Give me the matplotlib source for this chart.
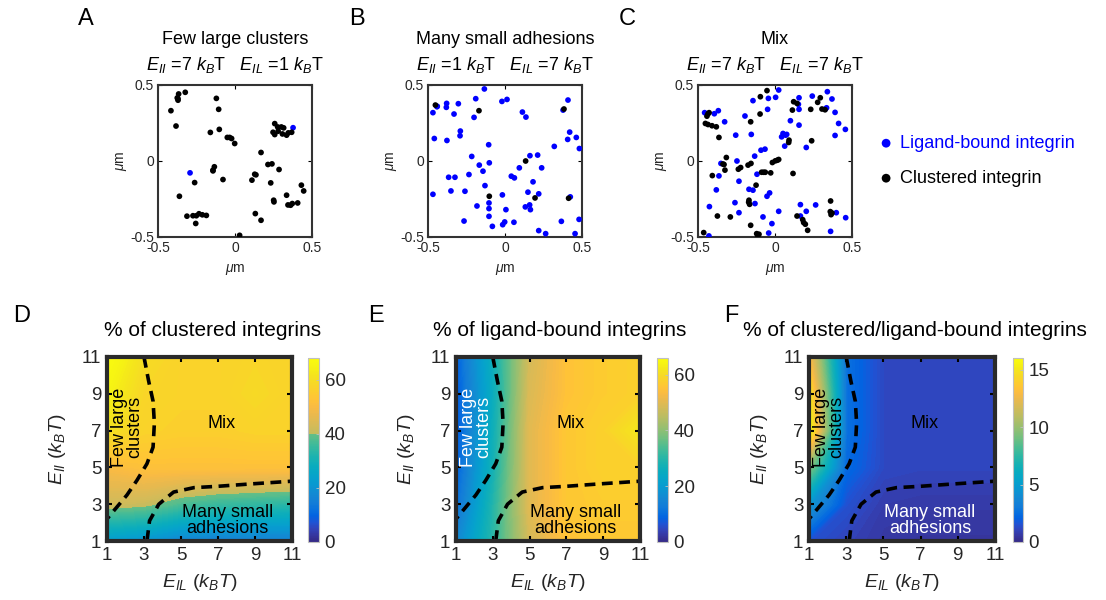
import numpy as np
import matplotlib
matplotlib.use("Agg")
import matplotlib.pyplot as plt
from matplotlib.colors import LinearSegmentedColormap, ListedColormap, Normalize
from matplotlib.cm import ScalarMappable

plt.rcParams['font.family'] = ['Liberation Sans', 'DejaVu Sans']
plt.rcParams['mathtext.fontset'] = 'custom'
plt.rcParams['mathtext.rm'] = 'Liberation Sans'
plt.rcParams['mathtext.it'] = 'Liberation Sans:italic'
plt.rcParams['axes.unicode_minus'] = False

# ---------------- data: top scatter panels (positions in um) ----------------
A_clu_x = [-0.366, -0.323, -0.37, -0.37, -0.375, -0.416, -0.383, -0.121, -0.106, -0.102, -0.160,
           -0.05, -0.035, -0.022, -0.002, 0.258, 0.277, 0.301, 0.316, 0.247, 0.258, 0.280, 0.308,
           0.335, 0.346, 0.368, 0.169, 0.214, 0.240, 0.286, 0.110, 0.128, 0.136, 0.232, -0.143,
           -0.134, -0.143, -0.078, -0.262, -0.361, 0.335, 0.251, 0.253, 0.344, 0.372, 0.407, 0.361,
           0.431, 0.446, -0.312, -0.273, -0.251, -0.234, -0.212, -0.186, -0.255, 0.132, 0.169, 0.030]
A_clu_y = [0.441, 0.452, 0.41, 0.40, 0.415, 0.331, 0.230, 0.412, 0.340, 0.208, 0.188,
           0.155, 0.155, 0.148, 0.115, 0.246, 0.224, 0.224, 0.218, 0.189, 0.174, 0.196, 0.178,
           0.170, 0.185, 0.189, 0.056, -0.023, -0.019, -0.056, -0.126, -0.087, -0.091, -0.144,
           -0.060, -0.038, -0.065, -0.122, -0.142, -0.232, -0.225, -0.258, -0.269, -0.289, -0.280,
           -0.276, -0.291, -0.159, -0.197, -0.363, -0.360, -0.360, -0.347, -0.354, -0.358, -0.411,
           -0.346, -0.390, -0.489]
A_lig_x = [0.377, -0.292]
A_lig_y = [0.219, -0.078]

B_clu_x = [-0.452, -0.169, 0.383, 0.134, -0.102, 0.195, 0.413]
B_clu_y = [0.368, 0.331, 0.342, 0.0, -0.232, -0.243, -0.245]
B_lig_x = [-0.468, -0.442, -0.379, -0.381, -0.331, -0.303, -0.290, -0.292, -0.459, -0.377, -0.201,
           -0.190, -0.134, -0.020, 0.013, 0.113, 0.136, 0.377, 0.409, 0.420, 0.407, 0.463, 0.483,
           0.320, -0.106, -0.216, -0.102, -0.167, -0.143, -0.234, -0.366, -0.325, -0.351, -0.260,
           -0.468, -0.130, 0.162, 0.212, 0.093, 0.238, 0.041, 0.061, 0.182, 0.149, 0.219, -0.017,
           -0.104, -0.104, -0.104, -0.182, 0.006, 0.132, 0.160, 0.165, -0.266, -0.082, -0.002,
           -0.015, 0.058, 0.219, 0.264, 0.366, 0.424, 0.481, 0.455, -0.440]
B_lig_y = [0.318, 0.357, 0.379, 0.353, 0.309, 0.377, 0.197, 0.166, 0.148, 0.135, 0.287,
           0.410, 0.474, 0.392, 0.405, 0.322, 0.289, 0.335, 0.401, 0.190, 0.142, 0.155, 0.082,
           0.096, 0.107, 0.030, -0.012, -0.027, -0.067, -0.089, -0.107, -0.107, -0.197, -0.199,
           -0.219, -0.162, 0.035, 0.039, -0.045, -0.045, -0.100, -0.111, -0.137, -0.205, -0.216,
           -0.223, -0.276, -0.313, -0.364, -0.296, -0.320, -0.302, -0.289, -0.320, -0.395, -0.430,
           -0.401, -0.419, -0.403, -0.458, -0.478, -0.397, -0.236, -0.384, -0.478, 0.360]

C_clu_x = [-0.435, -0.428, -0.442, -0.452, -0.435, -0.409, -0.381, -0.364, -0.316, -0.331, -0.325,
           -0.338, -0.407, -0.374, -0.290, -0.463, -0.158, -0.097, -0.095, -0.052, -0.175, -0.156,
           -0.238, -0.223, -0.123, -0.087, -0.074, -0.063, -0.028, -0.017, 0.002, 0.015, 0.024,
           0.091, 0.089, 0.117, 0.121, 0.143, 0.113, 0.232, 0.277, 0.294, 0.305, 0.325, 0.238,
           -0.169, -0.171, -0.165, -0.158, -0.119, -0.104, -0.112, 0.143, 0.180, 0.186, 0.197,
           0.212, 0.361, 0.359, 0.364, 0.370]
C_clu_y = [0.310, 0.318, 0.295, 0.247, 0.240, 0.232, 0.225, 0.155, 0.023, -0.023, -0.060,
           -0.020, -0.096, -0.362, -0.368, -0.471, 0.258, 0.309, 0.423, 0.463, -0.027, -0.016,
           -0.054, -0.043, -0.159, -0.074, -0.074, -0.074, -0.078, -0.010, 0.001, 0.005, 0.010,
           0.137, 0.122, -0.082, 0.390, 0.379, 0.335, 0.340, 0.386, 0.416, 0.342, 0.337, 0.133,
           -0.258, -0.271, -0.285, -0.423, -0.478, -0.482, -0.490, -0.362, -0.386, -0.405, -0.416,
           -0.456, -0.263, -0.333, -0.353, -0.342]
C_lig_x = [-0.457, -0.394, -0.368, -0.327, -0.351, -0.364, -0.381, -0.426, -0.429, -0.255, -0.247,
           -0.234, -0.260, -0.234, -0.195, -0.154, -0.143, -0.132, -0.169, -0.143, -0.130, -0.117,
           -0.091, -0.065, -0.048, -0.043, -0.078, -0.052, -0.035, 0.004, 0.024, -0.020, -0.041,
           0.024, 0.052, 0.043, 0.069, 0.076, 0.063, 0.100, 0.156, 0.152, 0.156, 0.156, 0.203,
           0.165, 0.165, 0.203, 0.264, 0.242, 0.327, 0.335, 0.340, 0.370, 0.390, 0.390, 0.413,
           0.457, 0.398, 0.459, 0.361]
C_lig_y = [0.318, 0.311, 0.331, 0.258, -0.016, -0.098, -0.190, -0.300, -0.493, 0.170, 0.0,
           -0.133, -0.274, -0.340, 0.296, 0.175, 0.397, 0.032, -0.186, -0.192, -0.280, -0.087,
           0.071, 0.078, 0.340, 0.412, -0.368, -0.232, -0.210, 0.419, 0.467, -0.412, -0.474,
           -0.331, 0.181, 0.159, 0.170, 0.175, 0.098, 0.265, 0.416, 0.373, 0.340, 0.236, 0.089,
           -0.287, -0.362, -0.331, -0.289, 0.427, 0.342, 0.350, 0.456, 0.408, 0.320, 0.168, 0.247,
           0.208, -0.340, -0.373, -0.463]

scatter_ticks = [-0.5, 0, 0.5]
scatter_ticklabels = ['-0.5', '0', '0.5']

top_titles = ['Few large clusters', 'Many small adhesions', 'Mix']
top_subtitles = [r'$E_{II}$ =7 $k_B$T   $E_{IL}$ =1 $k_B$T',
                 r'$E_{II}$ =1 $k_B$T   $E_{IL}$ =7 $k_B$T',
                 r'$E_{II}$ =7 $k_B$T   $E_{IL}$ =7 $k_B$T']

# ---------------- data: phase diagrams ----------------
E_IL = [1, 3, 5, 7, 9, 11]     # x
E_II = [1, 3, 5, 7, 9, 11]     # y
# rows: E_II = 1..11, cols: E_IL = 1..11
pct_clustered = [
    [22, 20, 16, 15, 15, 15],
    [42, 41, 37, 35, 34, 33],
    [50, 52, 52, 52, 52, 52],
    [61, 57, 56, 56, 57, 57],
    [65, 58, 57, 57, 59, 57],
    [68, 60, 57, 57, 58, 57],
]
pct_ligand = [
    [15, 30, 48, 55, 56, 56],
    [10, 29, 50, 56, 57, 57],
    [8, 27, 50, 56, 58, 58],
    [7, 26, 50, 56, 58, 62],
    [7, 25, 49, 55, 57, 58],
    [8, 26, 48, 55, 57, 58],
]
pct_ratio = [
    [1.5, 1.0, 0.6, 0.5, 0.5, 0.5],
    [4.5, 1.5, 0.8, 0.7, 0.7, 0.7],
    [9.5, 2.3, 1.2, 1.1, 1.1, 1.1],
    [16.0, 2.6, 1.2, 1.2, 1.2, 1.2],
    [15.0, 2.6, 1.2, 1.2, 1.2, 1.2],
    [13.0, 2.6, 1.2, 1.2, 1.2, 1.2],
]
cbar_max = [68, 66, 16]
cbar_ticks = [[0, 20, 40, 60], [0, 20, 40, 60], [0, 5, 10, 15]]
heat_titles = ['% of clustered integrins', '% of ligand-bound integrins',
               '% of clustered/ligand-bound integrins']

# phase boundaries
b1_x = [3.0, 3.25, 3.49, 3.56, 3.49, 3.16, 2.62, 2.08, 1.0]
b1_y = [11.0, 9.7, 8.6, 7.4, 6.1, 5.2, 4.3, 3.5, 2.2]
b2_x = [3.16, 3.3, 3.8, 4.6, 5.7, 6.95, 8.75, 11.0]
b2_y = [1.0, 2.1, 3.0, 3.66, 3.9, 3.97, 4.1, 4.25]

# ---------------- colormaps ----------------
parula_pts = [
    (0.2081, 0.1663, 0.5292), (0.2123, 0.2138, 0.6270), (0.1959, 0.2645, 0.7279),
    (0.1253, 0.3242, 0.8303), (0.0117, 0.3875, 0.8820), (0.0329, 0.4430, 0.8720),
    (0.0723, 0.4887, 0.8467), (0.0793, 0.5200, 0.8312), (0.0641, 0.5570, 0.8240),
    (0.0343, 0.5966, 0.8199), (0.0239, 0.6287, 0.8038), (0.0228, 0.6535, 0.7768),
    (0.0384, 0.6743, 0.7436), (0.0843, 0.6928, 0.7062), (0.1453, 0.7098, 0.6646),
    (0.2178, 0.7250, 0.6193), (0.3022, 0.7376, 0.5712), (0.3953, 0.7459, 0.5244),
    (0.4871, 0.7491, 0.4840), (0.5709, 0.7485, 0.4494), (0.6473, 0.7456, 0.4188),
    (0.7184, 0.7411, 0.3905), (0.7858, 0.7356, 0.3633), (0.8507, 0.7299, 0.3360),
    (0.9139, 0.7258, 0.3063), (0.9739, 0.7314, 0.2666), (0.9990, 0.7653, 0.2164),
    (0.9880, 0.8066, 0.1794), (0.9697, 0.8481, 0.1475), (0.9589, 0.8949, 0.1132),
    (0.9661, 0.9514, 0.0755), (0.9763, 0.9831, 0.0538)]
parula = LinearSegmentedColormap.from_list('parula', parula_pts, N=256)

# D colormap with a jump at 40 (as in the reference colorbar)
vals = np.linspace(0, 68, 256)
cols = [parula(0.55 * v / 40.0) if v < 40 else parula(0.70 + 0.30 * (v - 40) / 28.0) for v in vals]
cmapD = ListedColormap(cols)
cmaps = [cmapD, parula, parula]

# ---------------- figure ----------------
W, H = 1106, 600
fig = plt.figure(figsize=(W / 100, H / 100), dpi=100)


def ax_px(l, t, r, b):
    return fig.add_axes([l / W, 1 - b / H, (r - l) / W, (b - t) / H])


def ftext(x, y, s, **kw):
    fig.text(x / W, 1 - y / H, s, **kw)


frame_col = '#333333'
tick_col = '#262626'

# top panels
top_boxes = [(158, 85, 312, 237), (428, 85, 582, 237), (698, 85, 852, 237)]
scat = [(A_lig_x, A_lig_y, A_clu_x, A_clu_y),
        (B_lig_x, B_lig_y, B_clu_x, B_clu_y),
        (C_lig_x, C_lig_y, C_clu_x, C_clu_y)]
letters_top = ['A', 'B', 'C']
letter_x_top = [86, 357, 627]
for i, box in enumerate(top_boxes):
    ax = ax_px(*box)
    lx, ly, cx, cy = scat[i]
    ax.scatter(lx, ly, s=17, color='#0000ff', edgecolors='none', zorder=3)
    ax.scatter(cx, cy, s=17, color='black', edgecolors='none', zorder=4)
    ax.set_xlim(-0.5, 0.5)
    ax.set_ylim(-0.5, 0.5)
    ax.set_xticks(scatter_ticks)
    ax.set_yticks(scatter_ticks)
    ax.set_xticklabels(scatter_ticklabels)
    ax.set_yticklabels(scatter_ticklabels)
    ax.tick_params(direction='in', length=3, width=0.8, top=True, right=True,
                   labelsize=10, labelcolor=tick_col, pad=3)
    for sp in ax.spines.values():
        sp.set_color(frame_col)
        sp.set_linewidth(1.5)
    ax.set_xlabel(r'$\mu$m', fontsize=10, color=tick_col, labelpad=5)
    ax.set_ylabel(r'$\mu$m', fontsize=10, color=tick_col, labelpad=1)
    cxp = (box[0] + box[2]) / 2
    ftext(cxp, 40, top_titles[i], fontsize=13, ha='center', va='center', color='black')
    ftext(cxp, 65, top_subtitles[i], fontsize=13, ha='center', va='center', color='black')
    ftext(letter_x_top[i], 19, letters_top[i], fontsize=17, ha='center', va='center')

# legend
ax_leg = ax_px(870, 125, 1100, 195)
ax_leg.set_xlim(0, 1)
ax_leg.set_ylim(0, 1)
ax_leg.axis('off')
ax_leg.scatter([0.07], [0.74], s=40, color='#0000ff', edgecolors='none')
ax_leg.scatter([0.07], [0.24], s=40, color='black', edgecolors='none')
ax_leg.text(0.13, 0.74, 'Ligand-bound integrin', color='#0000ff', fontsize=13, va='center')
ax_leg.text(0.13, 0.24, 'Clustered integrin', color='black', fontsize=13, va='center')

# bottom panels
heat_boxes = [(107, 357, 292, 541), (456, 357, 640, 541), (809, 357, 995, 541)]
cbar_boxes = [(308, 358, 319, 542), (657, 358, 668, 542), (1013, 358, 1023, 542)]
letters_bot = ['D', 'E', 'F']
letter_x_bot = [22, 376, 731]
title_cx = [213, 560, 915]
datasets = [pct_clustered, pct_ligand, pct_ratio]
txtcol = [('black', 'black', 'black'), ('white', 'black', 'black'), ('black', 'black', 'white')]
X, Y = np.meshgrid(E_IL, E_II)
for i, box in enumerate(heat_boxes):
    ax = ax_px(*box)
    Z = np.array(datasets[i], dtype=float)
    levels = np.linspace(0, cbar_max[i], 120)
    cs = ax.contourf(X, Y, Z, levels=levels, cmap=cmaps[i], vmin=0, vmax=cbar_max[i])
    cs.set_edgecolor('face')
    cs.set_linewidth(0.6)
    ax.plot(b1_x, b1_y, color='black', lw=2.6, ls=(0, (3, 1.8)), zorder=5)
    ax.plot(b2_x, b2_y, color='black', lw=2.6, ls=(0, (3, 1.8)), zorder=5)
    ax.set_xlim(1, 11)
    ax.set_ylim(1, 11)
    ax.set_xticks(E_IL)
    ax.set_yticks(E_II)
    ax.tick_params(direction='in', length=3.5, width=1.5, top=True, right=True,
                   labelsize=13.5, labelcolor=tick_col, pad=4)
    for sp in ax.spines.values():
        sp.set_color('#2a2a2a')
        sp.set_linewidth(3)
        sp.set_zorder(6)
    ax.set_xlabel(r'$E_{IL}\ (k_BT)$', fontsize=14, color=tick_col, labelpad=6)
    ax.set_ylabel(r'$E_{II}\ (k_BT)$', fontsize=14, color=tick_col, labelpad=10)
    c1, c2, c3 = txtcol[i]
    ax.text(2.1, 7.2, 'Few large\nclusters', rotation=90, ha='center', va='center',
            fontsize=13, color=c1, linespacing=0.85, zorder=7)
    ax.text(7.2, 7.4, 'Mix', ha='center', va='center', fontsize=13, color=c2, zorder=7)
    ax.text(7.5, 2.1, 'Many small\nadhesions', ha='center', va='center', fontsize=13,
            color=c3, linespacing=0.9, zorder=7)
    ftext(title_cx[i], 331, heat_titles[i], fontsize=15, ha='center', va='center')
    ftext(letter_x_bot[i], 316, letters_bot[i], fontsize=17, ha='center', va='center')

    cax = ax_px(*cbar_boxes[i])
    sm = ScalarMappable(norm=Normalize(0, cbar_max[i]), cmap=cmaps[i])
    cb = fig.colorbar(sm, cax=cax, ticks=cbar_ticks[i])
    cb.outline.set_edgecolor('#c0c0c0')
    cb.outline.set_linewidth(0.8)
    cax.tick_params(direction='in', length=2.5, width=0.6, color='#c0c0c0',
                    labelsize=13.5, labelcolor=tick_col, pad=4)

fig.savefig('out.png', dpi=100)
